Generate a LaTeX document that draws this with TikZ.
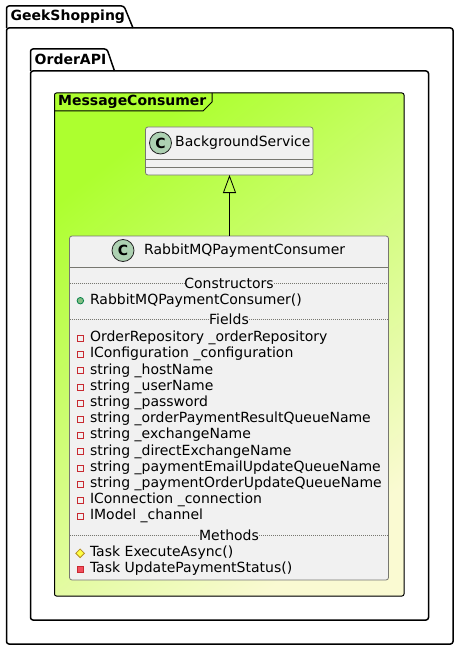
\documentclass[tikz,border=0pt]{standalone}
\usepackage{fontspec}
\setmainfont{DejaVu Sans}
\usetikzlibrary{shapes.geometric, arrows.meta, positioning, calc}
\definecolor{classfill}{HTML}{F1F1F1}
\definecolor{classline}{HTML}{777770}
\definecolor{spotfill}{HTML}{ADD1B2}
\definecolor{frametop}{HTML}{ADFF2F}
\definecolor{framebottom}{HTML}{FAFAD2}
\definecolor{privline}{HTML}{C82930}
\definecolor{privfill}{HTML}{F24D5C}
\definecolor{publine}{HTML}{038048}
\definecolor{pubfill}{HTML}{84BE84}
\definecolor{protline}{HTML}{B38D22}
\definecolor{protfill}{HTML}{FFFF44}

\begin{document}
\begin{tikzpicture}[
    x=1pt, y=-1pt,
    package/.style={draw=black, line width=1.5pt, rounded corners=2.5pt},
    title/.style={inner sep=0pt, anchor=west, font=\fontsize{14}{16}\selectfont\bfseries},
    classbox/.style={rectangle, draw=classline, line width=0.8pt, rounded corners=2.5pt, fill=classfill, outer sep=0pt, inner sep=0pt},
    spot/.style={circle, draw=black!85, line width=0.8pt, fill=spotfill, minimum size=22pt, inner sep=0pt, font=\fontsize{14}{16}\selectfont\bfseries},
    classname/.style={inner sep=0pt, anchor=west, font=\fontsize{14}{16}\selectfont},
    member/.style={inner sep=0pt, outer sep=0pt, text height=11.4pt, text depth=4.8pt, font=\fontsize{14}{16}\selectfont},
    group/.style={inner sep=0pt, fill=classfill, font=\fontsize{14}{16}\selectfont},
    divider/.style={classline, line width=0.8pt},
    dotline/.style={classline, line width=0.8pt, dash pattern=on 1pt off 1pt},
    privmark/.style={rectangle, draw=privline, line width=0.8pt, minimum size=6pt, inner sep=0pt},
    privsolid/.style={privmark, fill=privfill},
    pubmark/.style={circle, draw=publine, line width=0.8pt, fill=pubfill, minimum size=6.5pt, inner sep=0pt},
    protmark/.style={diamond, draw=protline, line width=0.8pt, fill=protfill, minimum size=9pt, inner sep=0pt},
    arrow/.style={-{Triangle[open, length=18pt, width=13pt]}, black, line width=0.8pt}
]
    \useasboundingbox (0,0) rectangle (458,650);

    % Packages
    \draw[package] (6.5,28) -- (6.5,6) -- (124,6) -- (133,28);
    \draw[package] (6.5,28) -- (6.5,644) -- (453,644) -- (453,28) -- cycle;
    \node[title] (geek) at (10.5,16.5) {GeekShopping};
    \draw[package] (30.5,71) -- (30.5,49) -- (107,49) -- (114.5,71);
    \draw[package] (30.5,71) -- (30.5,620) -- (428.5,620) -- (428.5,71) -- cycle;
    \node[title] (order) at (34.5,59.5) {OrderAPI};

    % Frame
    \fill[rounded corners=2pt, left color=frametop, right color=framebottom, shading angle=38] (54.5,93) rectangle (404,596);
    \draw[black, line width=1pt, rounded corners=2pt] (54.5,93) rectangle (404,596);
    \draw[black, line width=1pt] (54.5,111) -- (203,111) -- (212,102) -- (212,93);
    \node[title] (consumer) at (58,101.5) {MessageConsumer};

    % Classes
    \node[classbox, minimum width=167.5pt, minimum height=48pt] (background) at (229.25,151) {};
    \node[classbox, minimum width=319pt, minimum height=344pt] (rabbit) at (229,408) {};
    \draw[arrow] ([xshift=0.5pt]rabbit.north) -- ([xshift=0.25pt]background.south);

    \node[spot] (bgspot) at (160.5,143) {C};
    \node[classname] (bgname) at (175,143) {BackgroundService};
    \draw[divider] (background.west |- 0,159) -- (background.east |- 0,159);
    \draw[divider] (background.west |- 0,167) -- (background.east |- 0,167);

    \node[spot] (rabbitspot) at (123,250.5) {C};
    \node[classname] (rabbitname) at (144,250.5) {RabbitMQPaymentConsumer};
    \draw[divider] (rabbit.west |- 0,267.5) -- (rabbit.east |- 0,267.5);

    % Constructors
    \node[group] (ctors) at (229,283) {Constructors};
    \draw[dotline] (rabbit.west |- ctors) -- (ctors.west);
    \draw[dotline] (ctors.east) -- (rabbit.east |- ctors);
    \node[member, anchor=west] (ctor) at (90,300.7) {RabbitMQPaymentConsumer()};
    \node[pubmark, left=6pt of ctor] (ctormark) {};

    % Fields
    \node[group] (fields) at (229,319) {Fields};
    \draw[dotline] (rabbit.west |- fields) -- (fields.west);
    \draw[dotline] (fields.east) -- (rabbit.east |- fields);
    \node[member, anchor=west] (repo) at (90,338.3) {OrderRepository \_orderRepository};
    \node[member, below right=0pt and 0pt of repo.south west] (config) {IConfiguration \_configuration};
    \node[member, below right=0pt and 0pt of config.south west] (host) {string \_hostName};
    \node[member, below right=0pt and 0pt of host.south west] (user) {string \_userName};
    \node[member, below right=0pt and 0pt of user.south west] (pass) {string \_password};
    \node[member, below right=0pt and 0pt of pass.south west] (result) {string \_orderPaymentResultQueueName};
    \node[member, below right=0pt and 0pt of result.south west] (exchange) {string \_exchangeName};
    \node[member, below right=0pt and 0pt of exchange.south west] (direct) {string \_directExchangeName};
    \node[member, below right=0pt and 0pt of direct.south west] (email) {string \_paymentEmailUpdateQueueName};
    \node[member, below right=0pt and 0pt of email.south west] (update) {string \_paymentOrderUpdateQueueName};
    \node[member, below right=0pt and 0pt of update.south west] (conn) {IConnection \_connection};
    \node[member, below right=0pt and 0pt of conn.south west] (chan) {IModel \_channel};
    \node[privmark, left=6.5pt of repo] (repomark) {};
    \node[privmark, left=6.5pt of config] (configmark) {};
    \node[privmark, left=6.5pt of host] (hostmark) {};
    \node[privmark, left=6.5pt of user] (usermark) {};
    \node[privmark, left=6.5pt of pass] (passmark) {};
    \node[privmark, left=6.5pt of result] (resultmark) {};
    \node[privmark, left=6.5pt of exchange] (exchangemark) {};
    \node[privmark, left=6.5pt of direct] (directmark) {};
    \node[privmark, left=6.5pt of email] (emailmark) {};
    \node[privmark, left=6.5pt of update] (updatemark) {};
    \node[privmark, left=6.5pt of conn] (connmark) {};
    \node[privmark, left=6.5pt of chan] (chanmark) {};

    % Methods
    \node[group] (methods) at (229,535) {Methods};
    \draw[dotline] (rabbit.west |- methods) -- (methods.west);
    \draw[dotline] (methods.east) -- (rabbit.east |- methods);
    \node[member, anchor=west] (execute) at (90,553.3) {Task ExecuteAsync()};
    \node[member, below right=0pt and 0pt of execute.south west] (status) {Task UpdatePaymentStatus()};
    \node[protmark, left=5pt of execute] (executemark) {};
    \node[privsolid, left=6.5pt of status] (statusmark) {};
\end{tikzpicture}
\end{document}
